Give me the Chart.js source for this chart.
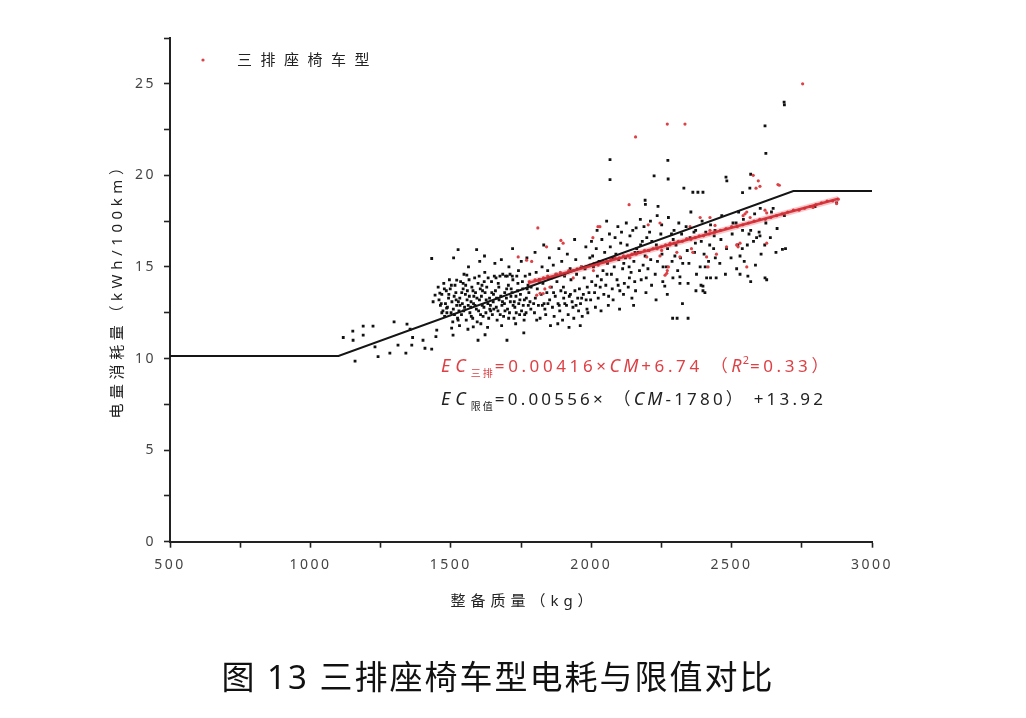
<!DOCTYPE html>
<html>
<head>
<meta charset="utf-8">
<script src="https://cdn.jsdelivr.net/npm/chart.js@4.4.1/dist/chart.umd.min.js"></script>
<style>
  html, body { margin: 0; padding: 0; background: #fff; }
  canvas { display: block; }
</style>
</head>
<body>
<canvas id="c" width="1026" height="718"></canvas>
<script>
const FONT = "'Noto Sans', 'Noto Sans CJK SC', sans-serif";

// axis ticks
const xTicks = [500, 1000, 1500, 2000, 2500, 3000];
const yTicks = [0, 5, 10, 15, 20, 25];

// limit line: EC = 0.00556 x (CM - 1780) + 13.92, flat at both ends
const limitMass = [500, 1100, 2720, 3000];
const limitEC = [10.14, 10.14, 19.15, 19.15];

// fitted line of three-row cars: EC = 0.00416 x CM + 6.74
const fitMass = [1775, 2880];
const fitEC = [14.12, 18.72];

// other cars (black)
const otherCars = [
  [1117,11.15],[1151,11.5],[1188,11.77],[1223,11.77],[1152,11.0],[1188,11.28],[1159,9.86],[1230,10.64],[1241,10.1],[1283,10.3],
  [1298,12.0],[1312,10.73],[1344,11.88],[1355,11.6],[1340,10.3],[1364,11.15],[1361,10.73],[1401,11.0],[1408,10.56],[1432,10.51],
  [1447,11.2],[1450,11.55],[1432,15.46],[1437,13.1],[1444,13.46],[1461,13.57],[1468,12.5],[1485,12.75],[1503,11.66],[1508,11.28],
  [1521,14.28],[1544,14.1],[1557,14.55],[1580,11.73],[1597,11.0],[1526,12.1],[1526,15.95],[1592,15.95],
  [1458,13.2],[1463,12.9],[1455,13.9],[1472,12.6],[1468,13.5],[1475,14.1],[1481,13.0],[1478,12.3],[1484,13.7],[1492,13.3],
  [1488,12.8],[1495,14.3],[1501,12.5],[1504,13.1],[1498,13.8],[1507,12.0],[1512,13.4],[1509,12.7],[1515,14.0],[1521,12.9],
  [1518,13.6],[1524,12.2],[1527,13.1],[1532,13.3],[1529,12.6],[1535,14.2],[1531,11.8],[1541,13.0],[1538,12.4],[1544,13.8],
  [1547,14.6],[1552,13.5],[1549,12.8],[1555,12.1],[1558,13.2],[1562,12.9],[1559,13.7],[1565,14.3],[1561,11.6],[1572,13.1],
  [1568,12.5],[1575,13.9],[1571,12.8],[1582,13.4],[1578,12.2],[1585,14.4],[1581,13.0],[1591,12.7],[1588,13.6],[1594,12.0],
  [1597,14.1],[1602,13.2],[1599,12.6],[1605,13.8],[1601,14.5],[1607,11.9],[1612,12.9],[1609,13.4],[1615,12.3],[1611,14.0],
  [1622,13.6],[1618,12.8],[1625,12.5],[1621,14.7],[1632,13.0],[1628,13.9],[1635,12.2],[1631,11.7],[1642,12.6],[1638,13.3],
  [1645,14.2],[1641,12.9],[1652,13.5],[1648,12.4],[1655,14.5],[1651,13.1],[1657,15.2],[1662,12.8],[1659,13.7],[1665,12.1],
  [1661,14.4],[1672,13.2],[1668,12.6],[1675,14.5],[1671,13.9],[1682,12.9],[1678,13.4],[1685,14.6],[1681,11.8],[1692,13.6],
  [1688,12.3],[1695,14.5],[1691,13.0],[1702,12.7],[1698,13.3],[1705,14.0],[1701,14.5],[1707,15.0],[1712,13.1],[1709,12.5],
  [1715,13.8],[1711,14.6],[1722,12.9],[1718,13.6],[1725,12.2],[1721,14.3],[1732,13.4],[1728,12.8],[1735,14.5],[1731,11.9],
  [1742,13.0],[1738,13.7],[1745,12.4],[1741,14.8],[1752,12.6],[1748,13.5],[1755,14.2],[1751,15.3],[1762,13.2],[1758,12.9],
  [1765,14.5],[1761,12.1],[1772,13.8],[1768,12.5],[1775,14.0],[1771,15.5],[1782,13.1],[1778,13.6],[1785,12.7],[1781,14.6],
  [1510,15.5],[1563,15.0],[1620,15.6],[1680,15.4],[1720,16.0],[1603,15.3],[1622,11.3],[1700,11.0],[1760,11.4],
  [1466,13.0],[1477,13.8],[1486,12.5],[1493,13.5],[1502,14.0],[1513,12.4],[1519,13.2],[1533,12.9],[1539,13.6],[1546,12.6],
  [1553,14.0],[1566,13.4],[1573,12.3],[1579,13.7],[1586,12.9],[1593,13.3],[1606,12.4],[1613,13.7],[1619,14.2],[1626,13.2],
  [1633,14.4],[1639,12.7],[1646,13.6],[1653,12.7],[1663,13.3],[1669,14.1],[1676,12.4],[1684,13.1],[1693,12.6],[1699,13.8],
  [1706,12.2],[1714,13.4],[1719,14.5],[1726,13.1],[1733,12.5],[1739,14.1],[1746,13.2],[1756,13.8],[1763,12.4],[1769,13.3],
  [1776,12.9],[1786,13.9],[1795,13.0],
  [1801,13.3],[1798,12.5],[1804,14.7],[1800,15.8],[1812,12.9],[1808,13.8],[1815,14.3],[1822,13.5],[1818,12.2],[1825,15.0],
  [1832,13.0],[1828,14.1],[1835,12.7],[1831,16.2],[1842,13.6],[1838,12.4],[1845,14.8],[1852,13.2],[1848,14.4],[1855,11.8],
  [1851,15.5],[1862,12.8],[1858,13.9],[1865,15.1],[1872,13.4],[1868,12.3],[1875,14.6],[1882,13.0],[1878,14.2],[1885,16.0],
  [1881,11.9],[1892,13.7],[1888,12.6],[1895,15.3],[1902,13.3],[1898,12.1],[1905,14.5],[1901,13.9],[1912,12.9],[1908,13.6],
  [1915,15.7],[1922,13.4],[1918,12.4],[1925,14.9],[1921,11.7],[1932,13.1],[1928,14.3],[1935,12.8],[1942,13.7],[1938,12.2],
  [1945,15.4],[1941,16.5],[1952,13.3],[1948,14.6],[1955,12.6],[1962,13.0],[1958,13.8],[1965,15.0],[1961,11.8],[1972,13.5],
  [1968,12.3],[1975,14.4],[1982,13.2],[1978,14.9],[1985,12.7],[1981,16.1],[1992,13.6],[1988,12.5],[1995,15.5],
  [1806,12.1],[1826,12.9],[1846,13.0],[1866,13.6],[1886,12.9],[1906,13.0],[1926,13.5],[1946,12.9],[1966,13.3],[1986,13.9],
  [2002,14.2],[1998,13.2],[2005,15.6],[2001,16.4],[2012,13.6],[2008,15.0],[2015,12.8],[2022,14.5],[2018,16.0],[2025,13.3],
  [2021,17.0],[2032,13.9],[2028,15.3],[2035,12.6],[2042,14.8],[2038,16.5],[2045,13.5],[2052,14.0],[2048,15.8],[2055,17.5],
  [2062,13.4],[2058,15.2],[2065,16.8],[2061,12.9],[2067,20.86],[2067,19.77],[2072,14.6],[2068,16.1],[2075,13.8],[2082,15.0],
  [2078,13.2],[2085,16.6],[2092,14.3],[2088,15.7],[2095,17.2],[2102,13.7],[2098,15.4],[2105,16.3],[2101,12.7],[2112,14.9],
  [2108,16.9],[2115,13.5],[2122,15.5],[2118,14.1],[2125,17.4],[2132,13.9],[2128,16.2],[2135,15.0],[2142,14.7],[2138,16.7],
  [2145,13.3],[2152,15.3],[2148,17.0],[2155,14.2],[2151,12.9],[2162,16.0],[2158,13.7],[2160,17.13],[2172,14.8],[2168,15.8],
  [2175,17.6],[2182,16.4],[2178,14.3],[2185,15.1],[2192,15.6],[2188,17.2],[2192,18.64],[2193,18.42],[2195,13.6],[2202,14.9],
  [2198,16.6],[2205,15.9],
  [2016,14.0],[2036,14.3],[2056,14.6],[2076,15.5],[2096,14.0],[2116,15.2],[2136,14.4],[2156,15.8],[2176,16.2],[2196,14.4],
  [2212,15.4],[2208,16.9],[2215,14.0],[2211,17.5],[2224,19.97],[2232,16.2],[2228,14.6],[2235,17.8],[2231,13.2],[2238,18.31],
  [2252,15.7],[2248,16.8],[2255,14.2],[2251,17.3],[2262,13.95],[2272,16.0],[2268,15.0],[2275,17.7],[2271,13.5],[2273,20.82],
  [2274,19.8],[2292,16.5],[2288,15.3],[2295,17.0],[2291,14.4],[2290,12.2],[2306,12.2],[2345,12.2],[2302,16.2],[2298,15.6],
  [2316,14.46],[2316,14.1],[2312,17.4],[2308,14.8],[2322,16.8],[2318,15.5],[2325,13.0],[2330,19.3],[2342,15.9],[2338,17.2],
  [2345,14.1],[2352,16.6],[2348,15.2],[2355,18.0],[2362,19.08],[2380,19.08],[2398,19.08],[2372,17.0],[2368,15.8],[2375,14.6],
  [2371,16.3],[2373,13.7],[2398,13.7],[2398,13.95],[2392,16.4],[2388,15.0],[2395,17.5],[2391,14.0],[2402,15.7],[2408,16.9],
  [2405,13.6],[2411,14.4],[2425,14.4],[2422,16.2],[2418,15.3],[2425,17.3],[2442,15.5],[2438,16.7],[2445,14.4],[2441,17.0],
  [2216,16.4],[2236,15.3],[2256,15.0],[2286,16.8],[2326,15.2],[2366,16.9],[2406,15.0],[2436,16.0],
  [2462,16.5],[2458,15.2],[2465,17.8],[2480,19.9],[2483,19.7],[2482,16.0],[2478,14.6],[2502,16.8],[2498,15.5],[2505,17.4],
  [2522,16.2],[2518,14.9],[2525,18.0],[2530,14.6],[2530,15.6],[2539,19.06],[2539,17.0],[2568,17.0],[2542,17.6],[2538,16.0],
  [2545,15.3],[2562,16.8],[2558,14.5],[2565,19.3],[2568,20.06],[2568,14.2],[2582,17.9],[2578,16.4],[2585,15.1],[2589,16.6],
  [2601,16.7],[2602,18.2],[2598,16.9],[2605,15.7],[2619,14.4],[2622,21.2],[2619,22.7],[2622,17.4],[2618,16.2],[2625,14.3],
  [2642,18.0],[2648,18.2],[2638,16.6],[2662,17.1],[2658,15.8],[2681,15.96],[2687,24.0],[2688,23.85],[2692,16.0],[2688,17.8],
  [2516,17.4],[2556,16.2],[2797,18.3],[2874,18.5]
];

// three-row seat cars (red)
const threeRowCars = [
  [1780,14.2],[1800,14.3],[1815,14.2],[1830,14.4],[1845,14.5],[1860,14.4],[1875,14.6],[1890,14.7],[1905,14.6],[1920,14.8],
  [1935,14.8],[1950,14.9],[1965,15.0],[1980,15.0],[1995,15.1],[2010,15.2],[2025,15.1],[2040,15.3],[2055,15.3],[2070,15.4],
  [2085,15.5],[2100,15.5],[2115,15.6],[2130,15.6],[2145,15.7],[2160,15.7],[2175,15.8],[2190,15.9],[2205,15.9],[2220,16.0],
  [2235,16.0],[2250,16.1],[2265,16.2],[2280,16.2],[2295,16.3],[2310,16.4],[2325,16.4],[2340,16.5],[2355,16.5],[2370,16.6],
  [2385,16.7],[2400,16.7],[2420,16.8],[2440,16.9],[2460,17.0],[2480,17.1],[2500,17.2],[2520,17.2],[2540,17.3],[2560,17.4],
  [2580,17.5],[2600,17.6],[2620,17.6],[2640,17.7],[2660,17.8],[2680,17.9],[2700,18.0],[2720,18.1],[2740,18.1],[2760,18.2],
  [2780,18.3],[2800,18.4],[2820,18.5],[2840,18.6],[2860,18.6],[2880,18.7],
  [2753,25.0],[2271,22.8],[2334,22.8],[2158,22.1],[2135,18.4],[1810,17.13],[2024,17.2],[2031,17.2],[2006,16.6],[1892,16.45],
  [1900,16.3],[1841,16.1],[1740,15.55],[1770,15.37],[1788,15.3],[1829,13.55],[1806,13.46],[1818,13.56],[1835,13.8],[1853,13.9],
  [1936,14.4],[2008,14.8],[2577,20.0],[2595,19.7],[2587,19.3],[2601,19.4],[2670,19.46],[2665,19.5],[2541,17.8],[2566,17.7],
  [2554,18.0],[2548,17.9],[2619,18.1],[2625,17.95],[2518,16.2],[2530,16.3],[2523,16.1],[2625,16.3],[2554,15.0],[2271,14.8],
  [2263,14.55],[2275,15.0],[2269,14.65],[2203,17.3],[2245,17.4],[2352,17.2],[2388,17.7],[2423,17.7],[2423,17.0],[2441,17.27],
  [2138,15.5],[2198,15.55],[2245,15.6],[2251,15.9],[2281,16.3],[2305,15.8],[2316,15.55],[2362,15.8],[2357,16.0],[2340,16.55],
  [2446,15.7],[2482,16.1],[2411,15.55],[2416,15.0],[2790,18.25],[2874,18.46]
];

const RED = '#dd4045';

function toXY(mass, ec) {
  return mass.map((m, i) => ({ x: m, y: ec[i] }));
}

function drawRich(ctx, x, y, parts, color) {
  ctx.fillStyle = color;
  ctx.textAlign = 'left';
  ctx.textBaseline = 'alphabetic';
  for (const p of parts) {
    ctx.font = (p.i ? 'italic ' : '') + p.s + 'px ' + FONT;
    ctx.letterSpacing = (p.ls !== undefined ? p.ls : 3) + 'px';
    ctx.fillText(p.t, x, y + (p.dy || 0));
    x += ctx.measureText(p.t).width;
  }
}

const decor = {
  id: 'decor',
  beforeDraw(chart) {
    // spaced-out tick labels like the original
    chart.ctx.letterSpacing = '2.5px';
  },
  afterDraw(chart) {
    const ctx = chart.ctx;
    ctx.save();

    // legend
    ctx.fillStyle = RED;
    ctx.beginPath();
    ctx.arc(203, 60, 1.6, 0, Math.PI * 2);
    ctx.fill();
    ctx.fillStyle = '#222';
    ctx.font = '15px ' + FONT;
    ctx.letterSpacing = '8.5px';
    ctx.textAlign = 'left';
    ctx.textBaseline = 'middle';
    ctx.fillText('三排座椅车型', 237, 61);

    // axis titles
    ctx.letterSpacing = '5px';
    ctx.textAlign = 'center';
    ctx.fillText('整备质量（kg）', 524, 602);
    ctx.save();
    ctx.translate(118, 287);
    ctx.rotate(-Math.PI / 2);
    ctx.letterSpacing = '4.6px';
    ctx.fillText('电量消耗量（kWh/100km）', 0, 0);
    ctx.restore();

    // equations
    drawRich(ctx, 441, 372, [
      { t: 'EC', i: 1, s: 18, ls: 5 },
      { t: '三排', s: 10, dy: 5, ls: 2 },
      { t: '=0.00416×', s: 17, ls: 3.6 },
      { t: 'CM', i: 1, s: 18, ls: 3 },
      { t: '+6.74 （', s: 17, ls: 3.6 },
      { t: 'R', i: 1, s: 18, ls: 1 },
      { t: '2', s: 11, dy: -8, ls: 1 },
      { t: '=0.33）', s: 17, ls: 3.6 }
    ], RED);
    drawRich(ctx, 441, 405, [
      { t: 'EC', i: 1, s: 18, ls: 5 },
      { t: '限值', s: 10, dy: 5, ls: 2 },
      { t: '=0.00556× （', s: 17, ls: 3.2 },
      { t: 'CM', i: 1, s: 18, ls: 3 },
      { t: '-1780） +13.92', s: 17, ls: 3.2 }
    ], '#222');

    // caption
    ctx.fillStyle = '#111';
    ctx.font = '33px ' + FONT;
    ctx.letterSpacing = '2px';
    ctx.textAlign = 'center';
    ctx.textBaseline = 'middle';
    ctx.fillText('图 13 三排座椅车型电耗与限值对比', 498, 680);

    ctx.restore();
  }
};

const axisStyle = {
  border: { color: '#222', width: 2 },
  grid: { drawOnChartArea: false, drawTicks: true, tickLength: 6, tickColor: '#222', tickWidth: 1.6 },
};

new Chart(document.getElementById('c'), {
  type: 'scatter',
  data: {
    datasets: [
      {
        label: 'fit',
        data: toXY(fitMass, fitEC),
        showLine: true,
        borderColor: 'rgba(212,45,52,0.92)',
        borderWidth: 2.5,
        pointRadius: 0,
      },
      {
        label: 'limit',
        data: toXY(limitMass, limitEC),
        showLine: true,
        borderColor: '#151515',
        borderWidth: 2,
        pointRadius: 0,
      },
      {
        label: 'fit halo',
        data: toXY(fitMass, fitEC),
        showLine: true,
        borderColor: 'rgba(225,70,75,0.3)',
        borderWidth: 6,
        pointRadius: 0,
      },
      {
        label: '三排座椅车型',
        data: threeRowCars.map(p => ({ x: p[0], y: p[1] })),
        pointRadius: 1.6,
        backgroundColor: RED,
        borderWidth: 0,
      },
      {
        label: 'other',
        data: otherCars.map(p => ({ x: p[0], y: p[1] })),
        pointStyle: 'rect',
        pointRadius: 2,
        backgroundColor: '#111',
        borderWidth: 0,
      },
    ],
  },
  options: {
    responsive: false,
    animation: false,
    layout: { padding: { top: 38, right: 154, bottom: 136.3, left: 0 } },
    plugins: { legend: { display: false }, tooltip: { enabled: false } },
    scales: {
      x: {
        type: 'linear',
        min: 500,
        max: 3000,
        afterFit(s) { s.height = 40; },
        ...axisStyle,
        ticks: {
          stepSize: 250,
          autoSkip: false,
          maxRotation: 0,
          padding: 9,
          color: '#444',
          font: { size: 14, family: FONT },
          callback: v => (xTicks.includes(v) ? String(v) : ''),
        },
      },
      y: {
        type: 'linear',
        min: 0,
        max: 27.5,
        afterFit(s) { s.width = 170; },
        ...axisStyle,
        ticks: {
          stepSize: 2.5,
          autoSkip: false,
          padding: 8,
          color: '#444',
          font: { size: 14, family: FONT },
          callback: v => (yTicks.includes(v) ? String(v) : ''),
        },
      },
    },
  },
  plugins: [decor],
});
</script>
</body>
</html>
